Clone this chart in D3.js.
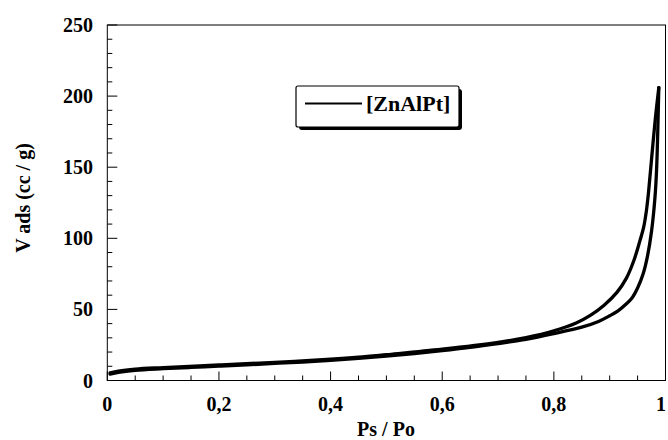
<!DOCTYPE html>
<html><head><meta charset="utf-8">
<script src="https://cdn.jsdelivr.net/npm/d3@7"></script>
<style>body{margin:0;background:#fff}svg{display:block}</style>
</head><body>
<svg id="c" width="668" height="440"></svg>
<script>
// Adsorption branch (lower curve)
const adsP = [0.005, 0.02, 0.05, 0.1, 0.15, 0.2, 0.25, 0.3, 0.35, 0.4, 0.45, 0.5, 0.55, 0.6, 0.65, 0.7, 0.75, 0.8, 0.85, 0.88, 0.9, 0.915, 0.93, 0.94, 0.95, 0.96, 0.967, 0.975, 0.981, 0.984, 0.988];
const adsV = [4.5, 5.8, 7.2, 8.3, 9.2, 10.1, 11, 12, 13, 14.2, 15.6, 17.2, 19, 21, 23.3, 26, 29, 33, 37.5, 41.5, 45.5, 49, 54, 58, 65, 75, 86, 105, 128, 148, 206];
// Desorption branch (upper curve)
const desP = [0.005, 0.02, 0.05, 0.1, 0.2, 0.3, 0.4, 0.45, 0.5, 0.6, 0.7, 0.75, 0.8, 0.84, 0.866, 0.89, 0.913, 0.93, 0.943, 0.954, 0.961, 0.966, 0.970, 0.976, 0.982, 0.988];
const desV = [5.3, 6.6, 8.0, 9.1, 10.9, 12.8, 15.0, 16.4, 18.2, 22.0, 26.8, 30.2, 35, 40.5, 46, 53, 62, 72, 84, 98, 108, 120, 134, 160, 185, 206];
const xTicks = [0, 0.2, 0.4, 0.6, 0.8, 1];
const xTickLabels = ["0", "0,2", "0,4", "0,6", "0,8", "1"];
const yTicks = [0, 50, 100, 150, 200, 250];
const seriesName = "[ZnAlPt]";
const xTitle = "Ps / Po";
const yTitle = "V ads (cc / g)";

const svg = d3.select("#c");
const L = 107.3, R = 665.5, T = 25, B = 380.5;
const x = d3.scaleLinear().domain([0, 1]).range([L, R]);
const y = d3.scaleLinear().domain([0, 250]).range([B, T]);
const font = "'Liberation Serif', 'Times New Roman', serif";

// frame
svg.append("rect").attr("x", L).attr("y", T).attr("width", R - L).attr("height", B - T)
  .attr("fill", "none").attr("stroke", "#000").attr("stroke-width", 1);

// x axis ticks (inside)
const xMinor = d3.range(0, 1.0001, 0.05);
svg.append("g").selectAll("line").data(xMinor).join("line")
  .attr("x1", d => x(d)).attr("x2", d => x(d))
  .attr("y1", B).attr("y2", d => B - ((Math.round(d * 100) % 20 === 0) ? 9 : 5))
  .attr("stroke", "#000").attr("stroke-width", 1);
svg.append("g").selectAll("text").data(xTicks).join("text")
  .attr("x", d => Math.min(x(d), 661)).attr("y", 411)
  .attr("text-anchor", "middle").attr("font-family", font).attr("font-weight", "bold")
  .attr("font-size", 20).text((d, i) => xTickLabels[i]);

// y axis ticks (inside)
const yMinor = d3.range(0, 251, 10);
svg.append("g").selectAll("line").data(yMinor).join("line")
  .attr("x1", L).attr("x2", d => L + (d % 50 === 0 ? 10 : 5))
  .attr("y1", d => y(d)).attr("y2", d => y(d))
  .attr("stroke", "#000").attr("stroke-width", 1);
svg.append("g").selectAll("text").data(yTicks).join("text")
  .attr("x", 93).attr("y", d => y(d) + 7)
  .attr("text-anchor", "end").attr("font-family", font).attr("font-weight", "bold")
  .attr("font-size", 20).text(d => d);

// titles
svg.append("text").attr("x", 386).attr("y", 436)
  .attr("text-anchor", "middle").attr("font-family", font).attr("font-weight", "bold")
  .attr("font-size", 20).text(xTitle);
svg.append("text").attr("transform", "translate(30,198) rotate(-90)")
  .attr("text-anchor", "middle").attr("font-family", font).attr("font-weight", "bold")
  .attr("font-size", 20).text(yTitle);

// curves
const line = d3.line().x(d => x(d[0])).y(d => y(d[1])).curve(d3.curveCatmullRom.alpha(0.5));
const ads = adsP.map((p, i) => [p, adsV[i]]);
const des = desP.map((p, i) => [p, desV[i]]);
[ads, des].forEach(s => {
  svg.append("path").datum(s).attr("d", line)
    .attr("fill", "none").attr("stroke", "#000").attr("stroke-width", 3.3)
    .attr("stroke-linejoin", "round").attr("stroke-linecap", "round");
});

// legend
const lg = svg.append("g");
lg.append("rect").attr("x", 299).attr("y", 89).attr("width", 163).attr("height", 41)
  .attr("rx", 3).attr("fill", "#000");
lg.append("rect").attr("x", 296).attr("y", 86).attr("width", 163).attr("height", 41)
  .attr("rx", 2).attr("fill", "#fff").attr("stroke", "#000").attr("stroke-width", 1.2);
lg.append("line").attr("x1", 305).attr("x2", 362).attr("y1", 103.5).attr("y2", 103.5)
  .attr("stroke", "#000").attr("stroke-width", 2);
lg.append("text").attr("x", 366).attr("y", 111).attr("font-family", font)
  .attr("font-weight", "bold").attr("font-size", 22).text(seriesName);
</script>
</body></html>
